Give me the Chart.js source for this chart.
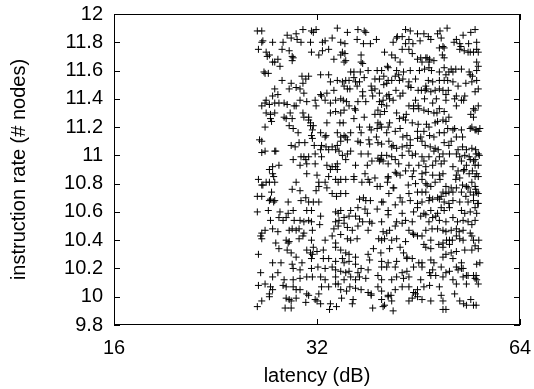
<!DOCTYPE html>
<html>
<head>
<meta charset="utf-8">
<script src="https://cdn.jsdelivr.net/npm/chart.js@4/dist/chart.umd.min.js"></script>
<style>
  html, body { margin: 0; padding: 0; background: #fff; }
  canvas { display: block; }
</style>
</head>
<body>
<canvas id="chart" width="534" height="389"></canvas>
<script>
// axis ticks
const xTicks = [16, 32, 64];
const yTicks = [9.8, 10, 10.2, 10.4, 10.6, 10.8, 11, 11.2, 11.4, 11.6, 11.8, 12];

// [latency (dB), instruction rate (# nodes)]
const samples = [
  [26.1,11.88],[26.5,11.88],[28.9,11.85],[29.8,11.86],[30.5,11.89],[31.4,11.88],[31.6,11.87],[31.9,11.89],
  [34.3,11.90],[35.5,11.87],[36.8,11.89],[37.8,11.87],[37.6,11.88],[42.1,11.84],[43.3,11.89],[44.0,11.88],
  [45.1,11.86],[46.1,11.86],[48.3,11.86],[48.7,11.88],[49.9,11.90],[52.7,11.85],[54.1,11.87],[54.9,11.89],
  [26.5,11.80],[26.6,11.81],[27.5,11.80],[28.5,11.80],[29.3,11.83],[29.9,11.82],[30.3,11.80],[31.3,11.80],
  [32.6,11.80],[32.9,11.81],[33.7,11.83],[34.7,11.80],[35.2,11.79],[36.7,11.82],[37.5,11.79],[38.4,11.79],
  [39.2,11.82],[41.5,11.80],[42.0,11.83],[42.8,11.84],[43.3,11.79],[43.8,11.82],[44.4,11.79],[45.5,11.81],
  [46.8,11.84],[47.2,11.82],[48.9,11.83],[49.2,11.77],[49.4,11.76],[51.1,11.80],[51.5,11.82],[52.1,11.79],
  [52.3,11.77],[53.7,11.79],[55.2,11.80],
  [26.2,11.75],[26.9,11.73],[27.2,11.71],[28.4,11.75],[29.1,11.74],[29.4,11.70],[31.4,11.73],[32.2,11.71],
  [32.6,11.74],[33.3,11.75],[34.7,11.71],[34.9,11.73],[35.2,11.72],[37.2,11.71],[40.3,11.73],[41.3,11.71],
  [42.8,11.75],[43.8,11.75],[44.3,11.72],[45.6,11.69],[46.4,11.69],[47.0,11.68],[48.6,11.76],[49.1,11.71],
  [49.4,11.69],[52.1,11.75],[52.9,11.74],[53.6,11.73],[54.0,11.73],[54.6,11.73],[55.2,11.75],[55.5,11.73],
  [27.0,11.70],[27.5,11.66],[27.7,11.66],[28.0,11.68],[28.2,11.63],[29.5,11.69],[29.4,11.67],[33.9,11.68],
  [35.1,11.66],[35.3,11.67],[37.2,11.66],[37.4,11.65],[40.7,11.63],[41.8,11.69],[42.5,11.66],[45.1,11.68],
  [45.8,11.66],[46.6,11.69],[46.9,11.66],[47.7,11.67],[49.4,11.62],[50.6,11.61],[55.2,11.66],[55.5,11.63],
  [26.7,11.59],[26.8,11.58],[27.1,11.58],[30.4,11.56],[31.1,11.56],[32.4,11.57],[33.3,11.57],[35.9,11.59],
  [36.3,11.59],[37.1,11.59],[38.1,11.60],[39.3,11.60],[39.9,11.60],[40.8,11.62],[42.0,11.60],[43.0,11.59],
  [41.8,11.56],[42.3,11.57],[44.0,11.60],[45.4,11.60],[46.2,11.61],[46.9,11.62],[47.3,11.60],[48.6,11.59],
  [49.7,11.57],[50.2,11.59],[50.9,11.59],[51.4,11.61],[52.4,11.61],[54.0,11.57],[54.4,11.56],[53.8,11.59],
  [55.2,11.60],
  [28.4,11.53],[29.3,11.51],[29.8,11.48],[30.5,11.51],[30.8,11.54],[33.5,11.52],[34.3,11.53],[34.9,11.52],
  [35.3,11.53],[35.7,11.53],[36.3,11.55],[36.5,11.52],[37.0,11.52],[37.6,11.55],[39.0,11.54],[39.6,11.54],
  [40.2,11.56],[40.6,11.51],[40.8,11.53],[41.3,11.53],[42.4,11.53],[42.9,11.54],[43.8,11.52],[44.8,11.54],
  [45.7,11.46],[46.4,11.49],[46.8,11.53],[47.5,11.52],[48.6,11.53],[49.4,11.53],[50.0,11.53],[50.9,11.52],
  [51.8,11.49],[53.2,11.51],[54.3,11.52],[55.2,11.53],
  [26.9,11.39],[27.5,11.42],[27.7,11.47],[28.0,11.43],[29.1,11.47],[30.2,11.47],[30.6,11.44],[31.8,11.39],
  [32.4,11.43],[32.5,11.42],[33.1,11.44],[33.9,11.46],[34.7,11.40],[35.1,11.49],[35.5,11.47],[35.8,11.47],
  [36.7,11.49],[37.4,11.45],[38.5,11.49],[38.6,11.46],[39.0,11.47],[39.6,11.44],[40.2,11.50],[40.6,11.42],
  [40.9,11.43],[41.5,11.39],[41.9,11.46],[42.9,11.44],[43.7,11.49],[44.1,11.48],[45.2,11.46],[46.3,11.46],
  [46.5,11.47],[47.2,11.45],[47.9,11.46],[48.6,11.47],[49.2,11.46],[49.7,11.43],[50.1,11.46],[51.2,11.40],
  [51.5,11.42],[52.4,11.39],[53.0,11.42],[54.9,11.45],[55.5,11.47],
  [26.5,11.35],[26.8,11.37],[27.2,11.36],[27.7,11.37],[28.1,11.37],[28.6,11.37],[28.9,11.36],[29.6,11.35],
  [30.2,11.39],[30.9,11.38],[32.9,11.39],[33.5,11.37],[34.1,11.39],[35.0,11.39],[35.4,11.38],[36.4,11.33],
  [36.8,11.38],[37.4,11.42],[37.8,11.38],[38.7,11.42],[39.6,11.38],[39.9,11.36],[40.1,11.39],[41.0,11.40],
  [42.5,11.42],[43.8,11.35],[44.5,11.35],[44.8,11.39],[45.3,11.33],[46.2,11.40],[47.5,11.37],[48.1,11.40],
  [49.7,11.39],[52.8,11.39],[54.6,11.33],[54.9,11.32],[55.5,11.35],
  [26.9,11.30],[27.3,11.29],[27.7,11.30],[28.6,11.27],[29.2,11.30],[29.8,11.35],[30.5,11.30],[31.1,11.27],
  [31.9,11.35],[33.5,11.30],[34.1,11.31],[34.7,11.30],[35.1,11.32],[35.7,11.35],[36.5,11.32],[37.6,11.27],
  [39.0,11.29],[39.4,11.32],[39.7,11.29],[40.3,11.31],[40.6,11.35],[42.0,11.30],[43.0,11.27],[43.4,11.29],
  [44.5,11.33],[45.2,11.35],[46.1,11.32],[46.8,11.31],[47.7,11.30],[48.2,11.30],[48.6,11.33],[49.4,11.31],
  [50.2,11.27],[51.5,11.35],[54.1,11.29],[54.6,11.27],
  [26.8,11.20],[27.3,11.26],[27.4,11.24],[28.8,11.26],[29.1,11.21],[29.4,11.26],[30.6,11.27],[31.1,11.25],
  [31.3,11.23],[31.6,11.21],[33.1,11.23],[34.6,11.23],[35.0,11.23],[36.3,11.26],[37.0,11.20],[38.3,11.20],
  [39.4,11.23],[39.7,11.22],[40.8,11.20],[41.0,11.23],[42.4,11.26],[43.3,11.25],[44.3,11.23],[45.2,11.22],
  [46.5,11.22],[46.9,11.20],[47.9,11.23],[48.3,11.24],[49.2,11.25],[49.7,11.24],[51.2,11.19],[52.4,11.18],
  [54.3,11.20],[55.1,11.18],[55.8,11.19],[55.5,11.17],
  [29.5,11.19],[30.0,11.16],[31.3,11.21],[31.5,11.18],[32.4,11.16],[32.9,11.13],[34.3,11.16],[34.7,11.13],
  [35.1,11.14],[35.9,11.16],[37.2,11.16],[38.5,11.18],[39.2,11.13],[39.3,11.19],[39.9,11.20],[40.6,11.16],
  [41.8,11.17],[42.5,11.19],[42.9,11.13],[43.5,11.14],[44.0,11.11],[45.1,11.17],[46.1,11.17],[47.0,11.14],
  [47.7,11.13],[48.6,11.16],[49.4,11.16],[50.0,11.19],[50.9,11.18],[51.5,11.13],[52.6,11.13],[54.0,11.19],
  [54.9,11.18],
  [26.3,11.11],[26.5,11.10],[26.8,11.03],[27.8,11.03],[29.3,11.07],[29.7,11.06],[30.1,11.09],[30.7,11.09],
  [31.4,11.14],[31.5,11.12],[31.7,11.07],[32.5,11.07],[33.0,11.14],[33.0,11.06],[33.3,11.04],[33.7,11.06],
  [34.3,11.07],[34.7,11.10],[35.3,11.13],[35.5,11.11],[36.8,11.10],[37.1,11.09],[38.2,11.11],[38.3,11.08],
  [39.4,11.09],[39.9,11.08],[40.9,11.10],[41.3,11.06],[41.5,11.07],[42.0,11.05],[42.8,11.06],[43.5,11.07],
  [44.0,11.07],[45.1,11.12],[45.6,11.13],[45.8,11.10],[46.3,11.07],[47.1,11.06],[47.9,11.05],[48.4,11.04],
  [49.4,11.09],[50.2,11.07],[50.6,11.10],[51.8,11.04],[52.6,11.06],[53.3,11.04],[54.3,11.05],[55.0,11.04],
  [55.5,11.01],
  [26.5,11.02],[27.7,11.03],[30.3,10.99],[30.6,10.99],[31.1,10.99],[31.8,11.01],[32.4,11.04],[32.5,10.99],
  [34.1,11.04],[34.5,11.03],[34.9,11.00],[35.5,11.01],[35.9,11.03],[37.2,11.01],[38.1,11.01],[39.4,10.98],
  [39.8,10.97],[39.9,11.00],[40.6,11.00],[41.3,10.99],[41.8,10.97],[42.8,11.00],[43.8,11.03],[44.3,11.00],
  [44.8,11.01],[45.8,10.99],[46.9,10.99],[47.7,11.03],[48.6,10.99],[49.2,11.01],[50.3,11.01],[51.5,11.01],
  [52.1,10.99],[53.0,11.00],[53.8,10.99],[55.1,11.01],[55.7,11.00],[54.9,10.97],
  [27.2,10.90],[27.5,10.92],[28.1,10.93],[29.5,10.97],[30.2,10.93],[30.8,10.97],[30.9,10.94],[31.8,10.94],
  [33.1,10.93],[33.7,10.92],[34.1,10.92],[34.3,10.94],[35.3,10.97],[36.5,10.93],[38.0,10.93],[38.6,10.96],
  [39.6,10.96],[40.1,10.96],[40.8,10.94],[42.3,10.94],[43.8,10.93],[45.3,10.93],[46.1,10.96],[46.4,10.92],
  [47.5,10.93],[48.0,10.96],[48.9,10.94],[49.4,10.96],[50.9,10.92],[52.4,10.96],[53.3,10.93],[54.0,10.97],
  [54.6,10.96],[54.9,10.93],[55.5,10.93],[52.9,10.90],
  [27.5,10.87],[27.6,10.85],[30.9,10.87],[32.0,10.86],[33.3,10.85],[33.5,10.90],[34.3,10.90],[36.3,10.85],
  [37.7,10.87],[38.1,10.83],[38.3,10.81],[40.8,10.85],[41.8,10.88],[42.0,10.87],[42.5,10.86],[43.3,10.89],
  [44.3,10.85],[44.5,10.89],[45.8,10.87],[46.4,10.88],[47.5,10.86],[48.6,10.86],[49.2,10.87],[51.5,10.86],
  [51.8,10.89],[52.8,10.89],[53.8,10.87],[54.4,10.89],[54.9,10.85],[55.2,10.87],[55.5,10.85],
  [26.2,10.83],[26.5,10.79],[26.6,10.79],[26.9,10.81],[27.2,10.81],[27.7,10.81],[29.8,10.81],[32.2,10.81],
  [32.9,10.81],[34.1,10.83],[34.4,10.81],[34.7,10.83],[35.3,10.83],[36.3,10.83],[37.3,10.81],[39.0,10.84],
  [39.3,10.78],[39.7,10.78],[40.7,10.81],[40.8,10.84],[41.6,10.77],[43.7,10.79],[44.8,10.80],[45.8,10.83],
  [46.4,10.80],[46.6,10.79],[47.2,10.78],[47.9,10.81],[48.7,10.83],[49.7,10.78],[50.6,10.77],[51.4,10.83],
  [52.1,10.84],[52.6,10.79],[53.3,10.78],[54.3,10.81],[54.9,10.78],[55.0,10.76],
  [26.1,10.71],[26.5,10.71],[27.4,10.74],[27.3,10.69],[27.7,10.68],[29.4,10.76],[30.2,10.75],[30.8,10.70],
  [31.9,10.75],[32.2,10.78],[33.1,10.77],[33.7,10.73],[34.2,10.71],[34.7,10.73],[35.3,10.73],[37.5,10.70],
  [37.8,10.68],[39.9,10.67],[40.9,10.73],[41.5,10.77],[42.5,10.70],[43.8,10.73],[45.1,10.74],[45.8,10.74],
  [46.4,10.74],[47.0,10.70],[48.3,10.70],[48.9,10.71],[49.2,10.74],[49.7,10.73],[50.2,10.74],[50.9,10.74],
  [51.5,10.77],[52.4,10.74],[53.2,10.71],[53.6,10.77],[54.0,10.74],[54.6,10.72],[55.2,10.74],[55.5,10.73],
  [27.2,10.68],[27.6,10.67],[29.0,10.67],[30.3,10.68],[31.1,10.67],[31.6,10.67],[32.2,10.67],[37.0,10.69],
  [38.4,10.68],[40.1,10.67],[41.8,10.65],[42.8,10.67],[44.0,10.68],[45.1,10.66],[45.8,10.67],[46.9,10.68],
  [47.5,10.69],[48.6,10.69],[49.4,10.67],[50.2,10.66],[50.9,10.68],[52.1,10.67],[53.6,10.67],[54.6,10.68],
  [55.5,10.66],
  [26.1,10.60],[27.1,10.61],[28.2,10.60],[29.0,10.59],[29.5,10.61],[30.9,10.61],[31.4,10.61],[34.1,10.60],
  [34.4,10.59],[34.7,10.61],[35.9,10.61],[36.8,10.63],[37.7,10.62],[38.0,10.59],[39.3,10.62],[40.8,10.61],
  [42.8,10.59],[44.5,10.60],[45.1,10.63],[46.1,10.59],[47.2,10.61],[48.3,10.59],[48.9,10.63],[49.4,10.61],
  [50.3,10.63],[52.4,10.61],[53.0,10.59],[54.0,10.60],[54.9,10.63],[55.4,10.66],[55.2,10.59],
  [27.3,10.54],[28.1,10.56],[28.5,10.54],[28.8,10.56],[29.6,10.54],[30.2,10.54],[30.6,10.53],[31.1,10.54],
  [31.4,10.53],[32.4,10.57],[34.1,10.53],[34.5,10.54],[35.1,10.56],[35.7,10.57],[36.5,10.57],[37.0,10.55],
  [37.4,10.53],[38.3,10.53],[38.6,10.52],[39.9,10.53],[40.8,10.58],[42.0,10.53],[43.3,10.54],[44.3,10.53],
  [45.6,10.57],[46.4,10.58],[46.9,10.53],[47.5,10.56],[48.0,10.57],[48.6,10.54],[49.7,10.53],[50.9,10.56],
  [51.7,10.53],[52.7,10.54],[53.6,10.53],[54.9,10.54],[54.3,10.51],
  [26.5,10.45],[26.8,10.47],[27.5,10.48],[28.0,10.46],[29.1,10.47],[29.4,10.48],[29.8,10.47],[30.1,10.48],
  [30.6,10.45],[31.5,10.47],[32.3,10.51],[33.9,10.48],[34.4,10.50],[35.1,10.52],[35.5,10.49],[36.1,10.47],
  [36.8,10.50],[38.1,10.47],[40.1,10.46],[40.6,10.45],[41.0,10.47],[41.8,10.50],[42.8,10.52],[43.8,10.47],
  [44.4,10.45],[46.4,10.47],[47.4,10.48],[48.3,10.48],[49.2,10.47],[49.7,10.46],[50.6,10.47],[51.5,10.48],
  [52.0,10.46],[52.7,10.47],[54.0,10.45],
  [26.4,10.43],[26.5,10.41],[27.8,10.38],[28.1,10.34],[28.8,10.40],[29.0,10.38],[29.1,10.39],[30.1,10.41],
  [30.5,10.43],[31.4,10.40],[31.6,10.35],[32.9,10.40],[33.7,10.43],[34.1,10.38],[34.7,10.44],[35.5,10.41],
  [35.9,10.40],[36.7,10.41],[38.8,10.34],[39.5,10.41],[39.9,10.40],[40.3,10.41],[41.3,10.40],[42.0,10.41],
  [43.3,10.39],[44.5,10.44],[45.1,10.43],[45.8,10.43],[46.1,10.37],[47.2,10.40],[48.5,10.37],[49.2,10.38],
  [49.8,10.40],[50.3,10.40],[50.8,10.40],[51.5,10.43],[52.1,10.41],[52.7,10.40],[54.3,10.43],[54.6,10.40],
  [55.6,10.40],
  [26.2,10.30],[28.9,10.33],[29.3,10.31],[29.8,10.28],[30.9,10.33],[31.3,10.31],[31.5,10.30],[32.0,10.32],
  [32.7,10.33],[34.1,10.35],[34.7,10.33],[35.3,10.31],[35.7,10.30],[36.5,10.28],[38.1,10.30],[39.8,10.31],
  [41.0,10.34],[42.5,10.35],[43.0,10.31],[43.5,10.28],[46.4,10.35],[47.2,10.34],[49.2,10.35],[50.3,10.37],
  [50.6,10.31],[51.5,10.32],[53.0,10.33],[54.3,10.33],[54.9,10.36],[55.5,10.34],
  [27.5,10.24],[28.3,10.24],[29.4,10.23],[30.4,10.24],[31.4,10.27],[32.7,10.27],[33.3,10.27],[34.1,10.25],
  [34.9,10.27],[35.1,10.24],[35.7,10.25],[36.5,10.23],[38.3,10.26],[39.9,10.25],[40.8,10.24],[42.0,10.25],
  [43.5,10.27],[44.3,10.27],[45.3,10.24],[45.8,10.24],[47.2,10.26],[47.7,10.24],[49.2,10.28],[49.7,10.30],
  [50.9,10.27],[51.5,10.21],[52.4,10.24],[52.7,10.20],[55.2,10.23],
  [26.4,10.17],[28.0,10.17],[29.5,10.20],[30.2,10.19],[31.4,10.20],[32.1,10.21],[32.9,10.20],[33.7,10.21],
  [34.1,10.19],[34.7,10.18],[35.3,10.17],[35.7,10.18],[36.8,10.17],[37.2,10.20],[38.1,10.19],[39.4,10.15],
  [39.9,10.21],[40.6,10.21],[41.8,10.21],[42.8,10.17],[43.5,10.18],[44.5,10.21],[45.8,10.21],[47.0,10.17],
  [47.5,10.19],[48.0,10.15],[48.9,10.21],[49.7,10.17],[50.3,10.18],[51.8,10.19],[52.4,10.20],[53.3,10.15],
  [54.6,10.15],[55.1,10.15],[55.8,10.24],
  [27.5,10.14],[28.6,10.12],[29.5,10.12],[30.2,10.13],[30.9,10.14],[31.5,10.14],[32.4,10.14],[32.9,10.12],
  [34.1,10.14],[34.4,10.09],[35.1,10.12],[35.9,10.14],[36.5,10.12],[37.0,10.14],[37.8,10.13],[39.9,10.12],
  [41.3,10.12],[42.0,10.14],[43.0,10.13],[43.8,10.14],[45.6,10.12],[47.2,10.15],[49.2,10.14],[50.9,10.12],
  [52.7,10.14],[53.6,10.15],[54.9,10.13],[55.2,10.12],[55.5,10.09],[51.5,10.09],[53.3,10.09],
  [26.2,10.08],[26.8,10.09],[27.3,10.07],[27.2,10.02],[27.5,10.05],[28.5,10.08],[28.8,10.07],[29.5,10.07],
  [29.8,10.05],[30.2,10.05],[30.9,10.02],[31.1,10.01],[32.2,10.02],[32.5,10.07],[33.3,10.07],[34.1,10.09],
  [34.7,10.05],[35.4,10.04],[35.8,10.07],[36.5,10.06],[37.2,10.05],[38.1,10.03],[38.5,10.02],[39.4,10.07],
  [39.9,10.04],[40.8,10.01],[41.8,10.05],[42.8,10.07],[43.8,10.07],[44.5,10.03],[45.1,10.05],[46.1,10.07],
  [47.0,10.08],[48.6,10.07],[51.2,10.02],
  [26.1,9.93],[26.5,9.97],[27.2,10.00],[28.8,9.99],[29.1,9.98],[29.3,9.97],[29.8,9.99],[30.8,9.96],
  [31.8,9.98],[32.0,9.97],[32.4,9.95],[33.5,9.95],[34.2,9.93],[34.8,9.99],[36.1,9.95],[36.2,9.98],
  [38.5,10.01],[38.7,9.92],[39.9,9.98],[40.1,9.93],[40.3,9.94],[40.8,10.00],[41.2,10.01],[41.3,9.97],
  [41.5,9.90],[43.8,9.97],[44.3,9.99],[44.8,10.02],[45.1,10.00],[45.8,9.98],[47.2,9.97],[48.9,10.01],
  [49.2,9.97],[49.2,9.91],[49.7,9.91],[52.1,9.97],[52.8,9.95],[53.3,9.94],[54.1,9.98],[54.6,9.94],
  [55.1,9.94],[28.7,9.92],[29.3,9.92],[33.4,9.91]
];

const FONT = "'Liberation Sans', Arial, Helvetica, sans-serif";

// gnuplot style frame with inward ticks on all four sides
const framePlugin = {
  id: 'frame',
  afterDatasetsDraw(chart) {
    const { ctx, chartArea: a, scales: { x, y } } = chart;
    const len = 6;
    ctx.save();
    ctx.strokeStyle = '#000';
    ctx.lineWidth = 1;
    ctx.strokeRect(a.left + 0.5, a.top + 0.5, a.right - a.left - 1, a.bottom - a.top - 1);
    ctx.beginPath();
    xTicks.forEach(v => {
      const px = Math.round(x.getPixelForValue(v)) + 0.5;
      ctx.moveTo(px, a.bottom); ctx.lineTo(px, a.bottom - len);
      ctx.moveTo(px, a.top); ctx.lineTo(px, a.top + len);
    });
    yTicks.forEach(v => {
      const py = Math.round(y.getPixelForValue(v)) + 0.5;
      ctx.moveTo(a.left, py); ctx.lineTo(a.left + len, py);
      ctx.moveTo(a.right, py); ctx.lineTo(a.right - len, py);
    });
    ctx.stroke();
    ctx.restore();
  }
};

// keep the label overhang from shrinking the plot box
function noOverhang(s) {
  s.paddingTop = 0; s.paddingBottom = 0; s.paddingLeft = 0; s.paddingRight = 0;
}

new Chart(document.getElementById('chart'), {
  type: 'scatter',
  data: {
    datasets: [{
      data: samples.map(([lat, r]) => ({ x: lat, y: r })),
      pointStyle: 'cross',
      radius: 3.5,
      borderColor: '#000',
      borderWidth: 1,
      backgroundColor: 'transparent'
    }]
  },
  options: {
    responsive: false,
    animation: false,
    layout: { padding: { top: 14, right: 14, left: 0, bottom: 0 } },
    plugins: { legend: { display: false }, tooltip: { enabled: false } },
    scales: {
      x: {
        type: 'logarithmic',
        min: 16,
        max: 64,
        grid: { display: false, drawTicks: false },
        border: { display: false },
        afterBuildTicks: s => { s.ticks = xTicks.map(v => ({ value: v })); },
        afterFit: s => { s.height = 64; noOverhang(s); },
        ticks: {
          color: '#000',
          padding: 11,
          maxRotation: 0,
          font: { family: FONT, size: 20 },
          callback: v => String(v)
        },
        title: {
          display: true,
          text: 'latency (dB)',
          color: '#000',
          font: { family: FONT, size: 20 },
          padding: { top: 0, bottom: 1 }
        }
      },
      y: {
        min: 9.8,
        max: 12,
        grid: { display: false, drawTicks: false },
        border: { display: false },
        afterBuildTicks: s => { s.ticks = yTicks.map(v => ({ value: v })); },
        afterFit: s => { s.width = 114; noOverhang(s); },
        ticks: {
          color: '#000',
          padding: 11,
          font: { family: FONT, size: 20 },
          callback: v => String(Number(v.toFixed(1)))
        },
        title: {
          display: true,
          text: 'instruction rate (# nodes)',
          color: '#000',
          font: { family: FONT, size: 20 },
          padding: { top: 7, bottom: 0 }
        }
      }
    }
  },
  plugins: [framePlugin]
});
</script>
</body>
</html>
